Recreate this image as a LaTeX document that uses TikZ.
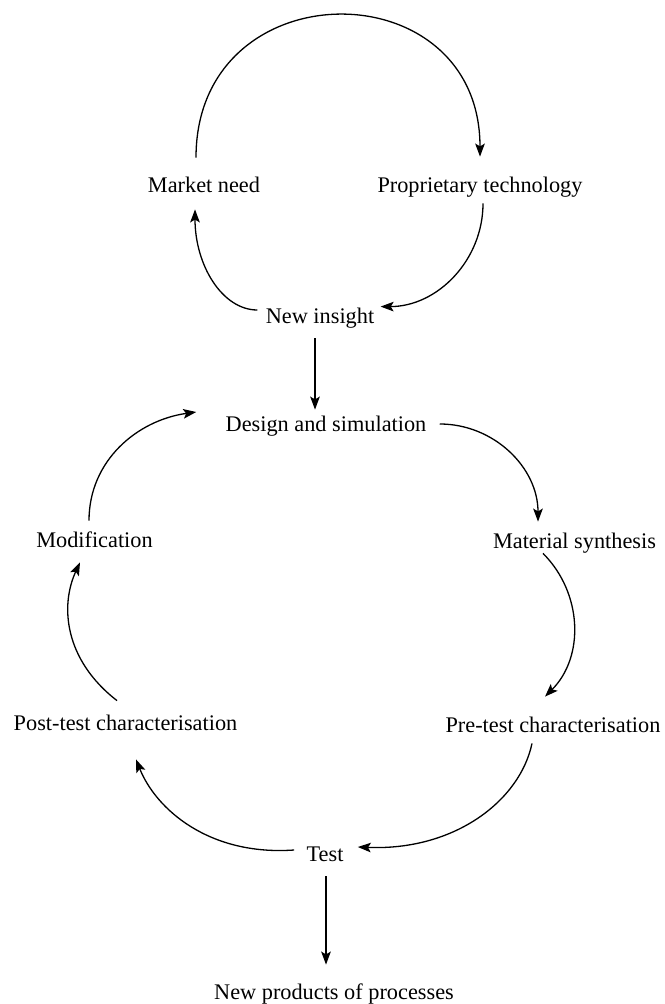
\documentclass[tikz,border=0pt]{standalone}
\usepackage{fontspec}
\setmainfont{Liberation Serif}
\usetikzlibrary{calc,arrows.meta}

\begin{document}
\begin{tikzpicture}[x=0.5pt, y=0.5pt,
    lbl/.style={inner sep=0pt, anchor=base, text height=7.5pt, text depth=2pt,
      font=\fontsize{11.15}{13}\selectfont},
    arr/.style={line width=0.65pt, -{Stealth[length=6.5pt, width=4.8pt, inset=1.4pt]}}]
  \useasboundingbox (0,0) rectangle (664,-1004);
  % nodes
  \node[lbl] (market)   at (204,-193)   {Market need};
  \node[lbl] (tech)     at (480,-193)   {Proprietary technology};
  \node[lbl] (insight)  at (320,-324)   {New insight};
  \node[lbl] (design)   at (326,-432)   {Design and simulation};
  \node[lbl] (synth)    at (574.5,-548) {Material synthesis};
  \node[lbl] (pretest)  at (553,-732)   {Pre-test characterisation};
  \node[lbl] (test)     at (325,-861)   {Test};
  \node[lbl] (posttest) at (125.5,-730) {Post-test characterisation};
  \node[lbl] (modif)    at (94.5,-547)  {Modification};
  \node[lbl] (products) at (334,-999)   {New products of processes};
  % upper loop
  \draw[arr] ($(market.north)+(-8,20)$) to[out=90, in=90, looseness=1.7] ($(tech.north)+(0,21)$);
  \draw[arr] ($(tech.south)+(3,-6)$) to[out=-90, in=0] ($(insight.north east)+(6,2)$);
  \draw[arr] ($(insight.west)+(-8,8.5)$) .. controls +(-35,0) and +(0,-56) .. ($(market.south)+(-9,-12)$);
  \draw[arr] ($(insight.south)+(-5,-10)$) -- ($(design.north)+(-11,7)$);
  % lower loop
  \draw[arr] ($(design.east)+(13,2.5)$) to[out=0, in=90] ($(synth.north)+(-36.5,11)$);
  \draw[arr] ($(synth.south)+(-31.5,-1)$) to[out=-45, in=45] ($(pretest.north)+(-8,20)$);
  \draw[arr] ($(pretest.south)+(-21,-7)$) .. controls +(-12,-57) and +(97,-4) .. ($(test.east)+(14,8.5)$);
  \draw[arr] ($(test.west)+(-12,5.5)$) .. controls +(-85,-6) and +(20,-50) .. ($(posttest.south)+(10.5,-25)$);
  \draw[arr] ($(posttest.north)+(-8.5,14)$) .. controls +(-53,41) and +(-20,-43) .. ($(modif.south)+(-14.5,-11)$);
  \draw[arr] ($(modif.north)+(-5.5,11)$) to[out=90, in=-172] ($(design.west)+(-29,14.5)$);
  \draw[arr] ($(test.south)+(1,-11)$) -- ($(products.north)+(-8,19)$);
\end{tikzpicture}
\end{document}
